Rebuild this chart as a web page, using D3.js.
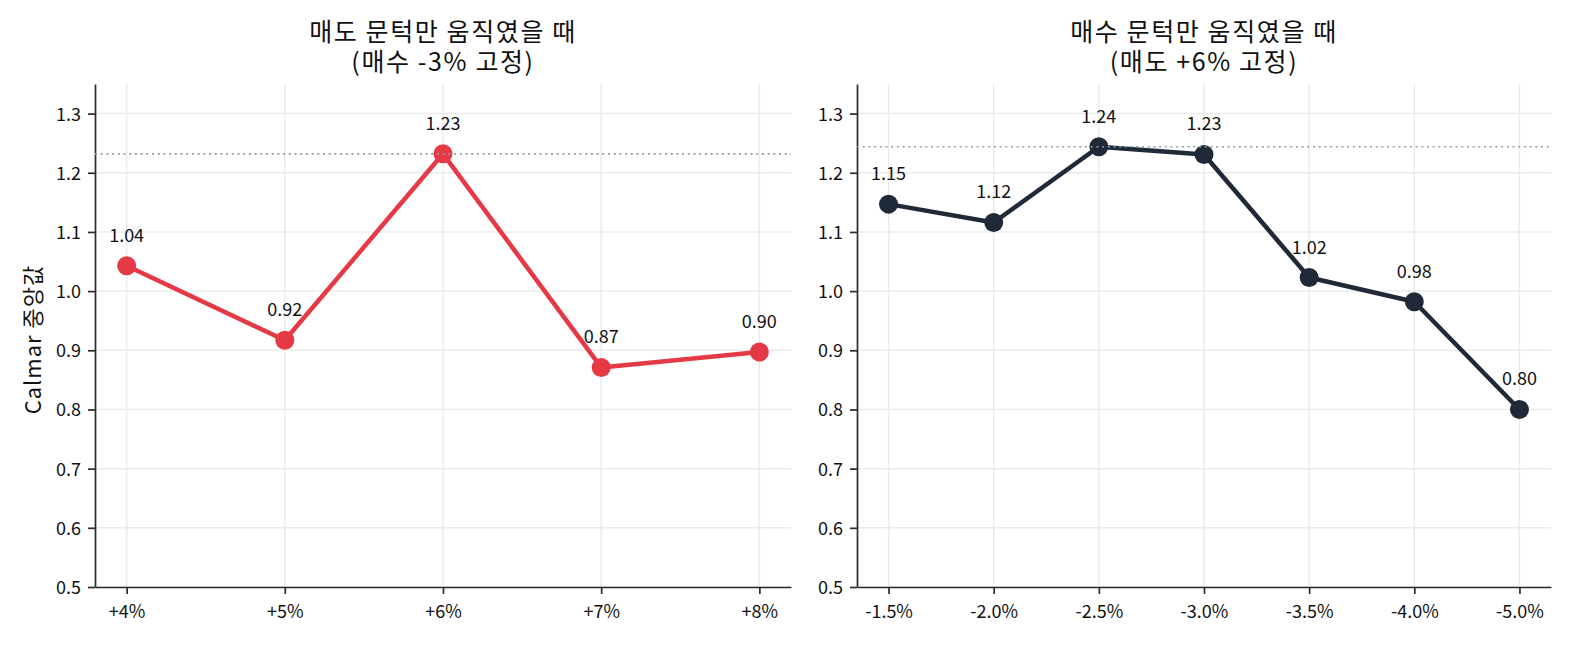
<!DOCTYPE html>
<html>
<head>
<meta charset="utf-8">
<script src="https://cdn.jsdelivr.net/npm/d3@7"></script>
<style>
  body { margin: 0; background: #fff; }
  text { font-family: "Noto Sans CJK KR", "Noto Sans", sans-serif; fill: #111; }
</style>
</head>
<body>
<div id="chart"></div>
<script>
// Data
const sellLabels = ["+4%", "+5%", "+6%", "+7%", "+8%"];
const sellValues = [1.043, 0.917, 1.232, 0.871, 0.897];
const buyLabels = ["-1.5%", "-2.0%", "-2.5%", "-3.0%", "-3.5%", "-4.0%", "-5.0%"];
const buyValues = [1.147, 1.116, 1.244, 1.231, 1.023, 0.982, 0.800];
const yTicks = [0.5, 0.6, 0.7, 0.8, 0.9, 1.0, 1.1, 1.2, 1.3];
const yDomain = [0.5, 1.35];

const panels = [
    { title: ["매도 문턱만 움직였을 때", "(매수 -3% 고정)"], labels: sellLabels, values: sellValues, color: "#e63946", left: 95, right: 791, ylabel: "Calmar 중앙값" },
    { title: ["매수 문턱만 움직였을 때", "(매도 +6% 고정)"], labels: buyLabels, values: buyValues, color: "#1f2937", left: 857, right: 1551, ylabel: null }
];

const W = 1575, H = 645;
const plotTop = 84, plotBottom = 587;

const svg = d3.select("#chart").append("svg")
    .attr("width", W)
    .attr("height", H)
    .attr("viewBox", `0 0 ${W} ${H}`);

svg.append("rect").attr("width", W).attr("height", H).attr("fill", "#fff");

const y = d3.scaleLinear().domain(yDomain).range([plotBottom, plotTop]);

panels.forEach(p => {
    const n = p.labels.length;
    const x = d3.scalePoint()
        .domain(p.labels)
        .range([p.left, p.right])
        .padding(0.05 * (n - 1));

    const g = svg.append("g");

    // grid
    g.append("g").selectAll("line")
        .data(yTicks)
        .join("line")
        .attr("x1", p.left).attr("x2", p.right)
        .attr("y1", d => y(d)).attr("y2", d => y(d))
        .attr("stroke", "#ebebeb")
        .attr("stroke-width", 1.5);

    g.append("g").selectAll("line")
        .data(p.labels)
        .join("line")
        .attr("x1", d => x(d)).attr("x2", d => x(d))
        .attr("y1", plotTop).attr("y2", plotBottom)
        .attr("stroke", "#ebebeb")
        .attr("stroke-width", 1.5);

    // axes
    const yAxis = g.append("g")
        .attr("transform", `translate(${p.left},0)`)
        .call(d3.axisLeft(y).tickValues(yTicks).tickFormat(d3.format(".1f"))
            .tickSize(7).tickSizeOuter(0).tickPadding(7));

    const xAxis = g.append("g")
        .attr("transform", `translate(0,${plotBottom})`)
        .call(d3.axisBottom(x).tickSize(7).tickSizeOuter(0).tickPadding(7));

    [yAxis, xAxis].forEach(a => {
        a.select(".domain").attr("stroke", "#2b2b2b").attr("stroke-width", 1.7);
        a.selectAll(".tick line").attr("stroke", "#2b2b2b").attr("stroke-width", 1.7);
        a.selectAll(".tick text")
            .style("font-family", '"Noto Sans CJK KR", sans-serif')
            .style("font-size", "18px")
            .attr("fill", "#111");
    });
    yAxis.selectAll(".tick text").attr("dy", "0.36em");
    xAxis.selectAll(".tick text").attr("dy", "0.95em");

    // series
    const pts = p.labels.map((l, i) => ({ label: l, value: p.values[i] }));
    const line = d3.line().x(d => x(d.label)).y(d => y(d.value));

    g.append("path")
        .datum(pts)
        .attr("fill", "none")
        .attr("stroke", p.color)
        .attr("stroke-width", 4.5)
        .attr("stroke-linejoin", "round")
        .attr("d", line);

    g.append("g").selectAll("circle")
        .data(pts)
        .join("circle")
        .attr("cx", d => x(d.label))
        .attr("cy", d => y(d.value))
        .attr("r", 9.5)
        .attr("fill", p.color);

    // best value reference line (drawn over the markers)
    const best = d3.max(p.values);
    g.append("line")
        .attr("x1", p.left).attr("x2", p.right)
        .attr("y1", y(best)).attr("y2", y(best))
        .attr("stroke", "#8d9ba8")
        .attr("stroke-width", 1.6)
        .attr("stroke-dasharray", "2,3.7");

    g.append("g").selectAll("text")
        .data(pts)
        .join("text")
        .attr("x", d => x(d.label))
        .attr("y", d => y(d.value) - 24)
        .attr("text-anchor", "middle")
        .style("font-size", "18px")
        .text(d => d.value.toFixed(2));

    // two-line title in one text element
    const cx = (p.left + p.right) / 2;
    const title = g.append("text")
        .attr("x", cx).attr("y", 41)
        .attr("text-anchor", "middle")
        .style("font-size", "25px")
        .style("letter-spacing", "1.6px");
    p.title.forEach((t, i) => {
        title.append("tspan")
            .attr("x", cx)
            .attr("dy", i === 0 ? 0 : 30)
            .text(t);
    });

    if (p.ylabel) {
        g.append("text")
            .attr("transform", `translate(41,${(plotTop + plotBottom) / 2 + 4}) rotate(-90)`)
            .attr("text-anchor", "middle")
            .style("font-size", "22px")
            .style("letter-spacing", "1px")
            .text(p.ylabel);
    }
});
</script>
</body>
</html>
